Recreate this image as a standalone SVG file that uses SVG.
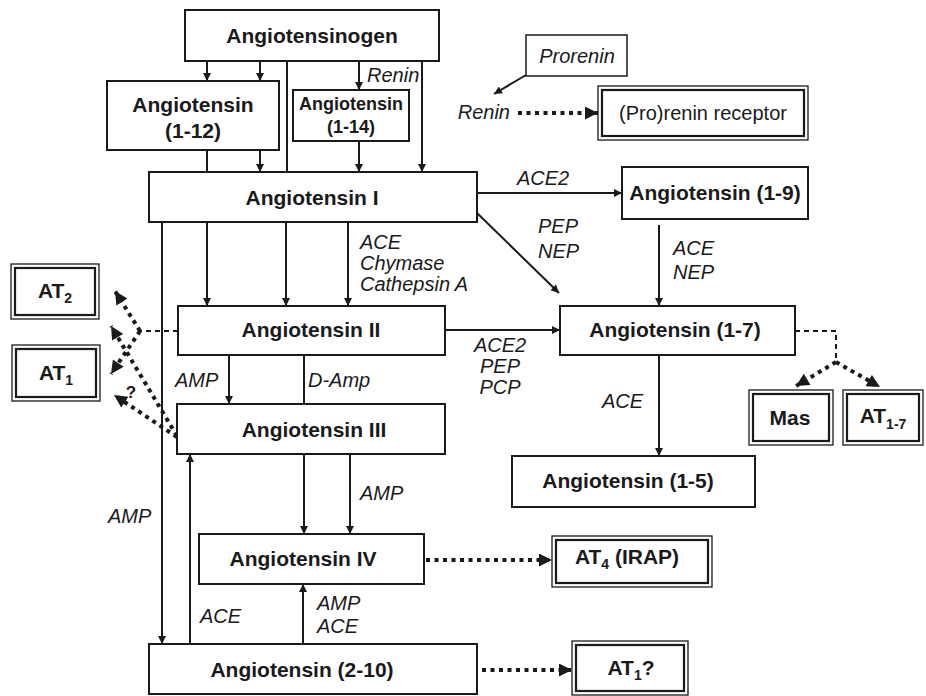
<svg xmlns="http://www.w3.org/2000/svg" width="926" height="696" viewBox="0 0 926 696">
<style>
.box{fill:#fff;stroke:#1a1a1a;stroke-width:2}
.o{fill:#fff;stroke:#1a1a1a;stroke-width:1.3}
.i{fill:none;stroke:#1a1a1a;stroke-width:2.2}
.b{font-family:"Liberation Sans",Arial,sans-serif;font-weight:bold;font-size:21px;fill:#1a1a1a;text-anchor:middle}
.bs{font-size:18px}
.sub{font-size:14px}
.it{font-family:"Liberation Sans",Arial,sans-serif;font-style:italic;font-size:20px;fill:#1a1a1a}
.rg{font-family:"Liberation Sans",Arial,sans-serif;font-size:20px;fill:#1a1a1a;text-anchor:middle}
.ln{fill:none;stroke:#1a1a1a;stroke-width:2}
.dot{fill:none;stroke:#1a1a1a;stroke-width:4;stroke-dasharray:4 4.5}
.dash{fill:none;stroke:#1a1a1a;stroke-width:2;stroke-dasharray:5 4}
</style>
<defs>
<marker id="ah" viewBox="0 0 10 10" refX="10" refY="5" markerWidth="9" markerHeight="8" markerUnits="userSpaceOnUse" orient="auto"><path d="M0,0L10,5L0,10z" fill="#1a1a1a"/></marker>
<marker id="dh" viewBox="0 0 10 10" refX="10" refY="5" markerWidth="14" markerHeight="13" markerUnits="userSpaceOnUse" orient="auto"><path d="M0,0L10,5L0,10z" fill="#1a1a1a"/></marker>
</defs>

<g id="connectors">
<path class="ln" d="M207,61V81" marker-end="url(#ah)"/>
<path class="ln" d="M260,61V81" marker-end="url(#ah)"/>
<path class="ln" d="M287,61V172"/>
<path class="ln" d="M359,61V90" marker-end="url(#ah)"/>
<path class="ln" d="M422,61V172" marker-end="url(#ah)"/>
<path class="ln" d="M207,150V172"/>
<path class="ln" d="M260,150V172" marker-end="url(#ah)"/>
<path class="ln" d="M359,141V172" marker-end="url(#ah)"/>
<path class="ln" d="M207,222V306" marker-end="url(#ah)"/>
<path class="ln" d="M286,222V306" marker-end="url(#ah)"/>
<path class="ln" d="M348,222V306" marker-end="url(#ah)"/>
<path class="ln" d="M162,222V644" marker-end="url(#ah)"/>
<path class="ln" d="M477,193H622" marker-end="url(#ah)"/>
<path class="ln" d="M477,213L559,293" marker-end="url(#ah)"/>
<path class="ln" d="M659,225V306" marker-end="url(#ah)"/>
<path class="ln" d="M446,330H560" marker-end="url(#ah)"/>
<path class="ln" d="M229,355V404" marker-end="url(#ah)"/>
<path class="ln" d="M304,355V404"/>
<path class="ln" d="M304,454V534" marker-end="url(#ah)"/>
<path class="ln" d="M350,454V534" marker-end="url(#ah)"/>
<path class="ln" d="M190,644V454" marker-end="url(#ah)"/>
<path class="ln" d="M303,644V584" marker-end="url(#ah)"/>
<path class="ln" d="M659,355V456" marker-end="url(#ah)"/>
<path class="ln" d="M526,75L494,94" marker-end="url(#ah)"/>
<path class="dot" d="M518,113H598" marker-end="url(#dh)"/>
<path class="dash" d="M178,331H140"/>
<path class="dot" d="M140,331L115,291" marker-end="url(#dh)"/>
<path class="dot" d="M140,331L111,374" marker-end="url(#dh)"/>
<path class="dot" d="M177,436L111,326" marker-end="url(#dh)"/>
<path class="dot" d="M177,437L114,395" marker-end="url(#dh)"/>
<path class="dash" d="M795,331H836V362"/>
<path class="dot" d="M836,362L796,386" marker-end="url(#dh)"/>
<path class="dot" d="M836,362L880,387" marker-end="url(#dh)"/>
<path class="dot" d="M426,560H552" marker-end="url(#dh)"/>
<path class="dot" d="M482,670H572" marker-end="url(#dh)"/>
</g>

<g id="labels">
<text class="it" x="367" y="82">Renin</text>
<text class="it" x="517" y="185">ACE2</text>
<text class="it" x="538" y="233">PEP</text>
<text class="it" x="538" y="258">NEP</text>
<text class="it" x="673" y="255">ACE</text>
<text class="it" x="673" y="279">NEP</text>
<text class="it" x="360" y="249">ACE</text>
<text class="it" x="360" y="270">Chymase</text>
<text class="it" x="360" y="291">Cathepsin A</text>
<text class="it" x="500" y="352" text-anchor="middle">ACE2</text>
<text class="it" x="500" y="373" text-anchor="middle">PEP</text>
<text class="it" x="500" y="394" text-anchor="middle">PCP</text>
<text class="it" x="175" y="387">AMP</text>
<text class="it" x="308" y="387">D-Amp</text>
<text class="it" x="602" y="408">ACE</text>
<text class="it" x="108" y="523">AMP</text>
<text class="it" x="360" y="500">AMP</text>
<text class="it" x="200" y="623">ACE</text>
<text class="it" x="317" y="610">AMP</text>
<text class="it" x="317" y="633">ACE</text>
<text class="it" x="510" y="119" text-anchor="end">Renin</text>
<text class="b" x="131" y="398" style="font-size:17px">?</text>
</g>

<g id="angiotensinogen"><rect class="box" x="185" y="10" width="254" height="51"/><text class="b" x="312" y="43">Angiotensinogen</text></g>
<g id="ang1-12"><rect class="box" x="107" y="81" width="172" height="69"/><text class="b" x="193" y="112">Angiotensin</text><text class="b" x="193" y="138">(1-12)</text></g>
<g id="ang1-14"><rect class="box" x="293" y="90" width="116" height="51"/><text class="b bs" x="351" y="110">Angiotensin</text><text class="b bs" x="351" y="133">(1-14)</text></g>
<g id="prorenin"><rect class="box" x="526" y="35" width="101" height="41" style="stroke-width:1.5"/><text class="it" x="577" y="63" text-anchor="middle">Prorenin</text></g>
<g id="receptor"><rect class="o" x="598" y="86" width="210" height="54"/><rect class="i" x="602" y="90" width="202" height="46"/><text class="rg" x="703" y="120">(Pro)renin receptor</text></g>
<g id="ang1"><rect class="box" x="149" y="172" width="328" height="50"/><text class="b" x="312" y="205">Angiotensin I</text></g>
<g id="ang1-9"><rect class="box" x="622" y="167" width="186" height="52"/><text class="b" x="715" y="200">Angiotensin (1-9)</text></g>
<g id="ang2"><rect class="box" x="178" y="306" width="267" height="49"/><text class="b" x="311" y="337">Angiotensin II</text></g>
<g id="ang1-7"><rect class="box" x="560" y="306" width="235" height="49"/><text class="b" x="675" y="337">Angiotensin (1-7)</text></g>
<g id="at2"><rect class="o" x="11" y="264" width="88" height="55"/><rect class="i" x="15" y="268" width="80" height="47"/><text class="b" x="55" y="298"><tspan>AT</tspan><tspan class="sub" dy="5">2</tspan></text></g>
<g id="at1"><rect class="o" x="12" y="345" width="88" height="56"/><rect class="i" x="16" y="349" width="80" height="48"/><text class="b" x="56" y="380"><tspan>AT</tspan><tspan class="sub" dy="5">1</tspan></text></g>
<g id="ang3"><rect class="box" x="177" y="404" width="268" height="50"/><text class="b" x="314" y="437">Angiotensin III</text></g>
<g id="mas"><rect class="o" x="749" y="390" width="84" height="55"/><rect class="i" x="753" y="394" width="76" height="47"/><text class="b" x="790" y="425">Mas</text></g>
<g id="at1-7"><rect class="o" x="843" y="390" width="80" height="55"/><rect class="i" x="847" y="394" width="72" height="47"/><text class="b" x="883" y="423"><tspan>AT</tspan><tspan class="sub" dy="6">1-7</tspan></text></g>
<g id="ang1-5"><rect class="box" x="512" y="456" width="243" height="51"/><text class="b" x="628" y="488">Angiotensin (1-5)</text></g>
<g id="ang4"><rect class="box" x="199" y="534" width="225" height="50"/><text class="b" x="303" y="566">Angiotensin IV</text></g>
<g id="at4"><rect class="o" x="552" y="536" width="160" height="51"/><rect class="i" x="556" y="540" width="152" height="43"/><text class="b" x="627" y="564"><tspan>AT</tspan><tspan class="sub" dy="5">4</tspan><tspan dy="-5"> (IRAP)</tspan></text></g>
<g id="ang2-10"><rect class="box" x="149" y="644" width="328" height="50"/><text class="b" x="302" y="677">Angiotensin (2-10)</text></g>
<g id="at1q"><rect class="o" x="572" y="641" width="116" height="54"/><rect class="i" x="576" y="645" width="108" height="46"/><text class="b" x="631" y="675"><tspan>AT</tspan><tspan class="sub" dy="5">1</tspan><tspan dy="-5">?</tspan></text></g>
</svg>
